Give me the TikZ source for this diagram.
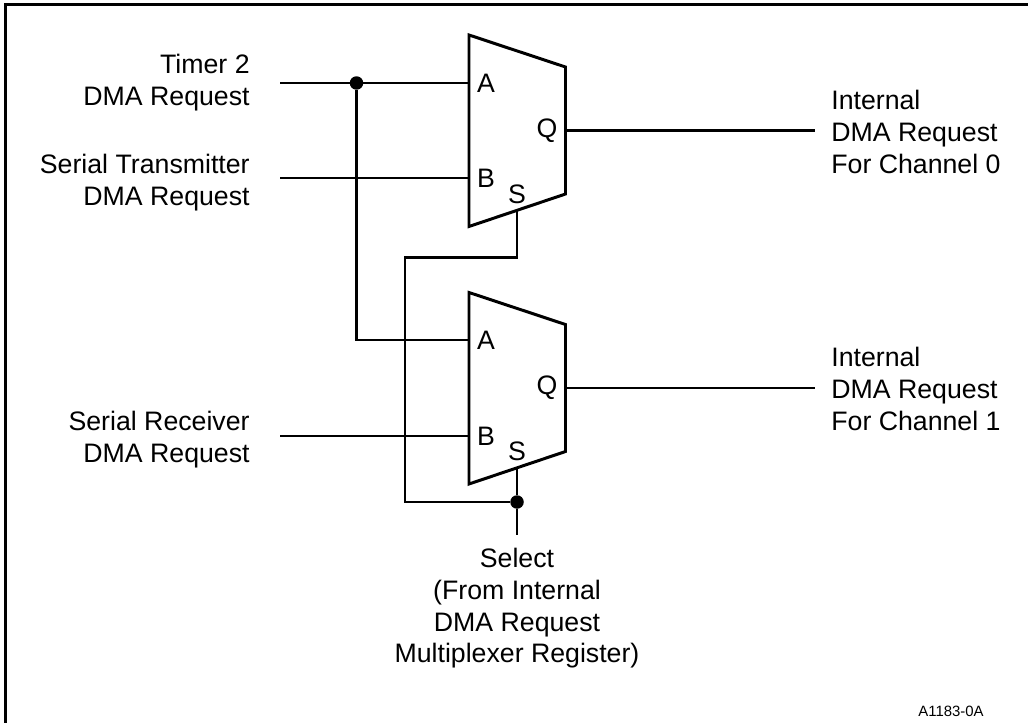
\documentclass[tikz,border=0pt]{standalone}
\usepackage{fontspec}
\setmainfont{Liberation Sans}
\usetikzlibrary{positioning}

\begin{document}
\begin{tikzpicture}[
    x=0.02cm, y=-0.02cm,
    mux/.style={draw, line width=1.7pt},
    wire/.style={line width=1.7pt},
    dot/.style={circle, fill=black, inner sep=0pt, minimum size=0.27cm},
    pin/.style={font=\fontsize{15.2pt}{18pt}\selectfont, inner sep=0pt},
    label/.style={align=center, font=\fontsize{15.2pt}{18pt}\selectfont, inner sep=0pt}
]
\useasboundingbox (0,0) rectangle (1028,723);

% frame
\draw[wire] (5.5,723) -- (5.5,4.5) -- (1028,4.5);

% Multiplexers
\draw[mux] (469,35) -- (565.5,67) -- (565.5,194) -- (469,226.5) -- cycle;
\draw[mux] (469,292.5) -- (565.5,324.5) -- (565.5,451.5) -- (469,484) -- cycle;

% Pins
\node[pin] (A0) at (486,83) {A};
\node[pin] (B0) at (486,178) {B};
\node[pin] (Q0) at (547,131) {Q};
\node[pin] (S0) at (517,194) {S};
\node[pin] (A1) at (486,340) {A};
\node[pin] (B1) at (486,436) {B};
\node[pin] (Q1) at (547,388) {Q};
\node[pin] (S1) at (517,451) {S};

% Labels
\node[label, align=right, anchor=east] (Timer) at (250,82.5) {Timer 2\\DMA Request};
\node[label, align=right, anchor=east] (Trans) at (250,182.5) {Serial Transmitter\\DMA Request};
\node[label, align=right, anchor=east] (Recv) at (250,439.5) {Serial Receiver\\DMA Request};
\node[label, align=left, anchor=west] (Chan0) at (831,132) {Internal\\DMA Request\\For Channel 0};
\node[label, align=left, anchor=west] (Chan1) at (831,389) {Internal\\DMA Request\\For Channel 1};
\node[label] (Select) at (517,608.5) {Select\\(From Internal\\DMA Request\\Multiplexer Register)};
\node[font=\fontsize{8.5pt}{10pt}\selectfont, inner sep=0pt] (Ref) at (951,711.5) {A1183-0A};

% Junctions
\node[dot] (J1) at (356.5,83) {};
\node[dot] (J2) at (517,502) {};

% Wires
\coordinate (TimerEnd) at (280,83);
\coordinate (TransEnd) at (280,178);
\coordinate (RecvEnd) at (280,436);
\coordinate (Pin0A) at (469,83);
\coordinate (Pin0B) at (469,178);
\coordinate (Pin1A) at (469,340);
\coordinate (Pin1B) at (469,436);
\coordinate (Out0) at (565.5,130.5);
\coordinate (Out1) at (565.5,388);
\coordinate (Load0) at (815,130.5);
\coordinate (Load1) at (815,388);
\coordinate (Sel0) at (517,209);
\coordinate (Sel1) at (517,467);
\coordinate (SelEnd) at (517,535);

\draw[wire] (TimerEnd) -- (Pin0A);
\draw[wire] (TransEnd) -- (Pin0B);
\draw[wire] (RecvEnd) -- (Pin1B);
\draw[wire] (J1) |- (Pin1A);
\draw[wire] (Out0) -- (Load0);
\draw[wire] (Out1) -- (Load1);
\draw[wire] (Sel0) |- (405,257.5) -- (405,502) -- (J2);
\draw[wire] (Sel1) -- (J2);
\draw[wire] (J2) -- (SelEnd);
\end{tikzpicture}
\end{document}
